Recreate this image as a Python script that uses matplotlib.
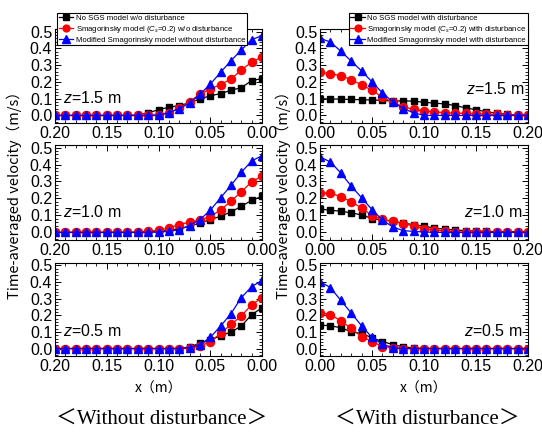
import numpy as np
import matplotlib
matplotlib.use("Agg")
import matplotlib.pyplot as plt
from matplotlib.ticker import MultipleLocator

plt.rcParams['font.family'] = ['Liberation Sans', 'Noto Sans CJK JP', 'DejaVu Sans']
plt.rcParams['mathtext.fontset'] = 'custom'
plt.rcParams['mathtext.it'] = 'Liberation Sans:italic'
plt.rcParams['mathtext.rm'] = 'Liberation Sans'

# x positions (m)
x = [0.00, 0.01, 0.02, 0.03, 0.04, 0.05, 0.06, 0.07, 0.08, 0.09, 0.10,
     0.11, 0.12, 0.13, 0.14, 0.15, 0.16, 0.17, 0.18, 0.19, 0.20]

# ---- without disturbance ----
nosgs_wo_15 = [0.220, 0.207, 0.166, 0.150, 0.130, 0.117, 0.099, 0.075, 0.059, 0.049, 0.034,
               0.016, 0.002, 0.0, 0.0, 0.0, 0.0, 0.0, 0.0, 0.0, 0.0]
smag_wo_15 = [0.348, 0.318, 0.270, 0.217, 0.184, 0.158, 0.126, 0.083, 0.043, 0.014, 0.004,
              0.0, 0.0, 0.0, 0.0, 0.0, 0.0, 0.0, 0.0, 0.0, 0.0]
mod_wo_15 = [0.475, 0.452, 0.390, 0.326, 0.257, 0.186, 0.126, 0.073, 0.041, 0.016, 0.002,
             0.0, 0.0, 0.0, 0.0, 0.0, 0.0, 0.0, 0.0, 0.0, 0.0]

nosgs_wo_10 = [0.213, 0.188, 0.154, 0.120, 0.095, 0.075, 0.055, 0.036, 0.022, 0.012, 0.006,
               0.002, 0.0, 0.0, 0.0, 0.0, 0.0, 0.0, 0.0, 0.0, 0.0]
smag_wo_10 = [0.332, 0.298, 0.239, 0.184, 0.132, 0.093, 0.073, 0.061, 0.045, 0.026, 0.012,
              0.006, 0.002, 0.0, 0.0, 0.0, 0.0, 0.0, 0.0, 0.0, 0.0]
mod_wo_10 = [0.452, 0.421, 0.354, 0.277, 0.204, 0.130, 0.075, 0.040, 0.016, 0.006, 0.002,
             0.0, 0.0, 0.0, 0.0, 0.0, 0.0, 0.0, 0.0, 0.0, 0.0]

nosgs_wo_05 = [0.245, 0.204, 0.135, 0.099, 0.077, 0.050, 0.033, 0.008, 0.0, 0.0, 0.0,
               0.0, 0.0, 0.0, 0.0, 0.0, 0.0, 0.0, 0.0, 0.0, 0.0]
smag_wo_05 = [0.305, 0.264, 0.196, 0.145, 0.091, 0.042, 0.014, 0.004, 0.0, 0.0, 0.0,
              0.0, 0.0, 0.0, 0.0, 0.0, 0.0, 0.0, 0.0, 0.0, 0.0]
mod_wo_05 = [0.410, 0.373, 0.306, 0.210, 0.135, 0.067, 0.022, 0.006, 0.0, 0.0, 0.0,
             0.0, 0.0, 0.0, 0.0, 0.0, 0.0, 0.0, 0.0, 0.0, 0.0]

# ---- with disturbance ----
nosgs_w_15 = [0.099, 0.098, 0.097, 0.095, 0.094, 0.092, 0.090, 0.085, 0.087, 0.085, 0.079,
              0.073, 0.069, 0.059, 0.045, 0.034, 0.022, 0.014, 0.006, 0.002, 0.0]
smag_w_15 = [0.257, 0.249, 0.237, 0.213, 0.182, 0.150, 0.109, 0.079, 0.051, 0.036, 0.026,
             0.022, 0.016, 0.014, 0.012, 0.010, 0.008, 0.006, 0.004, 0.004, 0.004]
mod_w_15 = [0.460, 0.437, 0.383, 0.324, 0.265, 0.200, 0.134, 0.081, 0.041, 0.016, 0.0,
            0.0, 0.0, 0.0, 0.0, 0.0, 0.0, 0.0, 0.0, 0.0, 0.0]

nosgs_w_10 = [0.138, 0.130, 0.125, 0.115, 0.103, 0.081, 0.073, 0.065, 0.055, 0.045, 0.036,
              0.026, 0.018, 0.014, 0.010, 0.008, 0.006, 0.004, 0.004, 0.004, 0.004]
smag_w_10 = [0.231, 0.231, 0.211, 0.180, 0.144, 0.099, 0.077, 0.065, 0.051, 0.038, 0.022,
             0.014, 0.008, 0.004, 0.0, 0.0, 0.0, 0.0, 0.0, 0.0, 0.0]
mod_w_10 = [0.445, 0.415, 0.350, 0.273, 0.204, 0.134, 0.073, 0.032, 0.010, 0.006, 0.002,
            0.0, 0.0, 0.0, 0.0, 0.0, 0.0, 0.0, 0.0, 0.0, 0.0]

nosgs_w_05 = [0.141, 0.137, 0.125, 0.101, 0.091, 0.065, 0.042, 0.024, 0.010, 0.004, 0.0,
              0.0, 0.0, 0.0, 0.0, 0.0, 0.0, 0.0, 0.0, 0.0, 0.0]
smag_w_05 = [0.216, 0.204, 0.167, 0.121, 0.071, 0.042, 0.012, 0.004, 0.0, 0.0, 0.0,
             0.0, 0.0, 0.0, 0.0, 0.0, 0.0, 0.0, 0.0, 0.0, 0.0]
mod_w_05 = [0.403, 0.367, 0.290, 0.214, 0.137, 0.067, 0.026, 0.006, 0.0, 0.0, 0.0,
            0.0, 0.0, 0.0, 0.0, 0.0, 0.0, 0.0, 0.0, 0.0, 0.0]

heights = ["1.5", "1.0", "0.5"]
labels_wo = ["No SGS model w/o disturbance",
             r"Smagorinsky model ($C_s$=0.2) w/o disturbance",
             "Modified Smagorinsky model without disturbance"]
labels_w = ["No SGS model with disturbance",
            r"Smagorinsky model ($C_s$=0.2) with disturbance",
            "Modified Smagorinsky model with disturbance"]

data_wo = [(nosgs_wo_15, smag_wo_15, mod_wo_15),
           (nosgs_wo_10, smag_wo_10, mod_wo_10),
           (nosgs_wo_05, smag_wo_05, mod_wo_05)]
data_w = [(nosgs_w_15, smag_w_15, mod_w_15),
          (nosgs_w_10, smag_w_10, mod_w_10),
          (nosgs_w_05, smag_w_05, mod_w_05)]

W, H = 542, 433
fig = plt.figure(figsize=(W / 100, H / 100), dpi=100)

# axes boxes in pixels (top, bottom)
rows = [(29, 123), (145, 240), (263, 356)]
cols = [(55, 262), (320, 528)]

styles = [dict(color='black', marker='s', ms=4.8),
          dict(color='red', marker='o', ms=5.8),
          dict(color='blue', marker='^', ms=6.3)]

# z-label positions (axes fraction)
ztxt_pos = [[(0.04, 0.27), (0.04, 0.295), (0.04, 0.27)],
            [(0.70, 0.36), (0.69, 0.295), (0.69, 0.27)]]


def fig_rect(c, r):
    (x0, x1), (t, b) = c, r
    return [x0 / W, 1 - b / H, (x1 - x0) / W, (b - t) / H]


for ci, (data, labels) in enumerate([(data_wo, labels_wo), (data_w, labels_w)]):
    for ri in range(3):
        ax = fig.add_axes(fig_rect(cols[ci], rows[ri]))
        lines = []
        for k in range(3):
            ln, = ax.plot(x, data[ri][k], lw=0.9, **styles[k])
            lines.append(ln)
        if ci == 0:
            ax.set_xlim(0.20, 0.00)
        else:
            ax.set_xlim(0.00, 0.20)
        ax.set_ylim(-0.045, 0.515)
        ax.xaxis.set_major_locator(MultipleLocator(0.05))
        ax.xaxis.set_minor_locator(MultipleLocator(0.01))
        ax.yaxis.set_major_locator(MultipleLocator(0.1))
        ax.yaxis.set_minor_locator(MultipleLocator(0.02))
        ax.xaxis.set_major_formatter(plt.FormatStrFormatter('%.2f'))
        ax.yaxis.set_major_formatter(plt.FormatStrFormatter('%.1f'))
        ax.tick_params(which='both', direction='in', top=True, right=True, labelsize=11.5, pad=2)
        ax.tick_params(which='major', length=4, width=0.7)
        ax.tick_params(which='minor', length=2, width=0.6)
        for s in ax.spines.values():
            s.set_linewidth(0.8)
        zx, zy = ztxt_pos[ci][ri]
        ax.text(zx, zy, r"$z$=%s m" % heights[ri], transform=ax.transAxes,
                fontsize=11.5, va='center')
        if ri == 0:
            if ci == 0:
                anchor, loc = (57 / W, 1 - 13 / H), 'upper left'
            else:
                anchor, loc = (528 / W, 1 - 13 / H), 'upper right'
            leg = ax.legend(lines, labels, loc=loc, bbox_to_anchor=anchor,
                            bbox_transform=fig.transFigure, fontsize=5.6,
                            handlelength=1.9, handletextpad=0.3, labelspacing=0.2,
                            borderpad=0.2, borderaxespad=0, fancybox=False,
                            framealpha=1, edgecolor='black', markerscale=0.85)
            leg.get_frame().set_linewidth(0.8)
            leg.set_zorder(10)

    xc = (cols[ci][0] + cols[ci][1]) / 2 / W
    fig.text(xc, 1 - 389 / H, "x（m）", ha='center', va='center', fontsize=10,
             family=['Noto Sans CJK JP', 'DejaVu Sans'])
    cap = "＜Without disturbance＞" if ci == 0 else "＜With disturbance＞"
    fig.text(xc + 3 / W, 1 - 420 / H, cap, ha='center', va='center', fontsize=15,
             family=['Liberation Serif', 'Noto Sans CJK JP', 'DejaVu Sans'])
    ylx = 14 if ci == 0 else 283
    fig.text(ylx / W, 1 - 192 / H, "Time‑averaged velocity（m/s）", rotation=90,
             ha='center', va='center', fontsize=10.5,
             family=['Noto Sans CJK JP', 'DejaVu Sans'])

fig.savefig("out.png", dpi=100)
